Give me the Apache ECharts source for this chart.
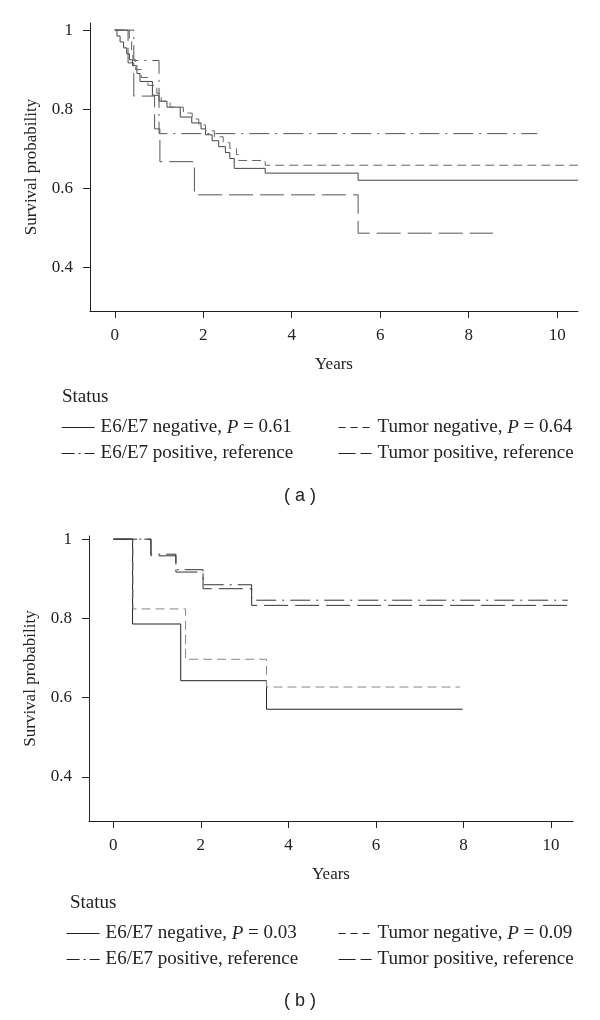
<!DOCTYPE html>
<html>
<head>
<meta charset="utf-8">
<script src="https://cdn.jsdelivr.net/npm/echarts@6/dist/echarts.min.js"></script>
<style>
html,body{margin:0;padding:0;background:#fff;}
#c{width:600px;height:1020px;}
</style>
</head>
<body>
<div id="c"></div>
<script>
// ---- Data (time in years, survival probability) ----
const yearTicks = [0, 2, 4, 6, 8, 10];
const probTicks = [0.4, 0.6, 0.8, 1];

// Panel (a)
const aNames = ['E6/E7 negative, P = 0.61', 'E6/E7 positive, reference', 'Tumor negative, P = 0.64', 'Tumor positive, reference'];
const aE6E7Neg = [[0,1],[0.05,0.985],[0.12,0.97],[0.2,0.955],[0.27,0.94],[0.33,0.925],[0.4,0.91],[0.5,0.89],[0.57,0.87],[0.85,0.835],[1.0,0.82],[1.18,0.805],[1.48,0.78],[1.74,0.765],[1.95,0.75],[2.05,0.735],[2.2,0.72],[2.35,0.705],[2.5,0.69],[2.6,0.675],[2.7,0.65],[3.4,0.638],[5.5,0.62],[10.47,0.62]];
const aE6E7Pos = [[0,1],[0.43,0.923],[1.0,0.738],[9.55,0.738]];
const aTumorNeg = [[0,1],[0.33,0.975],[0.38,0.95],[0.42,0.925],[0.47,0.9],[0.6,0.88],[0.75,0.86],[0.95,0.84],[1.05,0.82],[1.25,0.805],[1.55,0.79],[1.75,0.775],[1.9,0.76],[2.05,0.745],[2.25,0.73],[2.45,0.715],[2.6,0.7],[2.75,0.685],[2.8,0.67],[3.4,0.658],[10.47,0.658]];
const aTumorPos = [[0,1],[0.3,0.917],[0.43,0.833],[0.9,0.75],[1.02,0.667],[1.8,0.583],[5.5,0.486],[8.55,0.486]];

// Panel (b)
const bNames = ['E6/E7 negative, P = 0.03', 'E6/E7 positive, reference\u200b', 'Tumor negative, P = 0.09', 'Tumor positive, reference\u200b'];
const bE6E7Neg = [[0,1],[0.44,0.786],[1.54,0.643],[3.5,0.571],[7.98,0.571]];
const bE6E7Pos = [[0,1],[0.86,0.962],[1.43,0.923],[2.05,0.885],[3.16,0.846],[10.38,0.846]];
const bTumorNeg = [[0,1],[0.45,0.824],[1.65,0.697],[3.5,0.627],[7.92,0.627]];
const bTumorPos = [[0,1],[0.86,0.958],[1.43,0.917],[2.05,0.875],[3.16,0.833],[10.38,0.833]];

// ---- Styling ----
const SERIF = '"Liberation Serif", "DejaVu Serif", serif';
const FS = 17;
const LFS = 19;
const TXT = '#222';

function xAx(grid, min, max){
  return {
    type:'value', gridIndex:grid, min:min, max:max,
    name:'Years', nameLocation:'middle', nameGap:45,
    nameTextStyle:{fontFamily:SERIF, fontSize:FS, color:TXT},
    axisLine:{show:true, onZero:false, lineStyle:{color:'#222', width:1}},
    axisTick:{show:true, length:7, lineStyle:{color:'#222'}, customValues:yearTicks},
    axisLabel:{fontFamily:SERIF, fontSize:FS, color:TXT, margin:16, customValues:yearTicks},
    splitLine:{show:false}
  };
}
function yAx(grid, min, max){
  return {
    type:'value', gridIndex:grid, min:min, max:max,
    name:'Survival probability', nameLocation:'middle', nameGap:50,
    nameTextStyle:{fontFamily:SERIF, fontSize:FS, color:TXT},
    axisLine:{show:true, onZero:false, lineStyle:{color:'#222', width:1}},
    axisTick:{show:true, length:7, lineStyle:{color:'#222'}, customValues:probTicks},
    axisLabel:{fontFamily:SERIF, fontSize:FS, color:TXT, margin:17, customValues:probTicks},
    splitLine:{show:false}
  };
}
function ser(name, data, idx, dash, color){
  return {
    type:'line', name:name, data:data, xAxisIndex:idx, yAxisIndex:idx,
    step:'end', symbol:'none', showSymbol:false, animation:false,
    lineStyle:{color:color, width:1, type:dash}, itemStyle:{color:color},
    emphasis:{disabled:true}
  };
}
const DASH = [9,5], LONG = [24,7], DOTDASH = [20,6,2,6];
// legend sample patterns
const L_SOLID = 'solid', L_DASH = [7,5], L_LONG = [17,5], L_DOTDASH = [13,4,2,4];

function legendFmt(name){
  return name.replace('\u200b','').replace(', P =', ', {i|P} =');
}
function item(name, type){
  return {name:name, lineStyle:{type:type, color:'#222', width:1.2}};
}
function leg(items, left, top){
  return {
    data:items, left:left, top:top, orient:'vertical', itemGap:7,
    itemWidth:33, itemHeight:14, selectedMode:false,
    itemStyle:{opacity:0},
    formatter:legendFmt,
    textStyle:{fontFamily:SERIF, fontSize:LFS, color:TXT, padding:[0,0,0,1],
      rich:{i:{fontFamily:SERIF, fontSize:LFS, color:TXT, fontStyle:'italic'}}}
  };
}

const option = {
  backgroundColor:'#fff',
  animation:false,
  grid:[
    {left:90, top:23, width:488, height:288},
    {left:89, top:536, width:484, height:285}
  ],
  xAxis:[xAx(0,-0.56,10.47), xAx(1,-0.555,10.5)],
  yAxis:[yAx(0,0.289,1.018), yAx(1,0.289,1.008)],
  legend:[
    leg([item(aNames[0], L_SOLID), item(aNames[1], L_DOTDASH)], 56, 413),
    leg([item(aNames[2], L_DASH), item(aNames[3], L_LONG)], 333, 413),
    leg([item(bNames[0], L_SOLID), item(bNames[1], L_DOTDASH)], 61, 919),
    leg([item(bNames[2], L_DASH), item(bNames[3], L_LONG)], 333, 919)
  ],
  graphic:[
    {type:'text', left:62, top:388, style:{text:'Status', font:LFS+'px '+SERIF, fill:TXT}},
    {type:'text', left:70, top:894, style:{text:'Status', font:LFS+'px '+SERIF, fill:TXT}},
    {type:'text', x:300, y:496, style:{text:'( a )', font:'18px "Liberation Sans", Arial, sans-serif', fill:TXT, align:'center', verticalAlign:'middle'}},
    {type:'text', x:300, y:1001, style:{text:'( b )', font:'18px "Liberation Sans", Arial, sans-serif', fill:TXT, align:'center', verticalAlign:'middle'}}
  ],
  series:[
    ser(aNames[0], aE6E7Neg, 0, 'solid', '#444'),
    ser(aNames[1], aE6E7Pos, 0, DOTDASH, '#555'),
    ser(aNames[2], aTumorNeg, 0, DASH, '#666'),
    ser(aNames[3], aTumorPos, 0, LONG, '#555'),
    ser(bNames[0], bE6E7Neg, 1, 'solid', '#222'),
    ser(bNames[1], bE6E7Pos, 1, DOTDASH, '#333'),
    ser(bNames[2], bTumorNeg, 1, DASH, '#888'),
    ser(bNames[3], bTumorPos, 1, LONG, '#333')
  ]
};
const chart = echarts.init(document.getElementById('c'), null, {renderer:'canvas'});
chart.setOption(option);
</script>
</body>
</html>
